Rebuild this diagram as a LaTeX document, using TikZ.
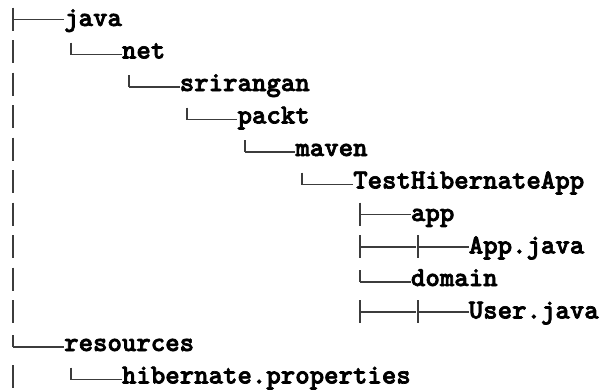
\documentclass[tikz,border=0pt]{standalone}
\usepackage{fontspec}
\newfontfamily\kodfont{lmmonolt10-bold}[Extension=.otf, FakeBold=2.5]
\begin{document}
\begin{tikzpicture}[x=1pt, y=-1pt]
  % Kolory
  \definecolor{lineTree}{RGB}{60, 60, 60}
  \definecolor{textTree}{RGB}{0, 0, 0}
  \tikzset{
    plik/.style={inner sep=0pt, anchor=base west, text=textTree,
      font=\kodfont\fontsize{27.5}{30}\selectfont},
    galaz/.style={lineTree, line width=1.5pt},
    pion/.style={lineTree, line width=2pt}
  }
  \useasboundingbox (0,0) rectangle (600,391);
  \fill[white] (0,0) rectangle (600,391);

  % Wymiary siatki
  \def\ox{6.2} \def\cw{14.45} \def\by{26} \def\dy{32.5}

  % Nazwy katalogow i plikow
  \foreach \i/\k/\nazwa in {
      1/0/java, 2/4/net, 3/8/srirangan, 4/12/packt, 5/16/maven,
      6/20/TestHibernateApp, 7/24/app, 8/28/App.java, 9/24/domain,
      10/28/User.java, 11/0/resources, 12/4/hibernate.properties
  } {
    \node[plik] (n\i) at ({\ox+(\k+4)*\cw}, {\by+(\i-1)*\dy}) {\nazwa};
  }

  % Pionowe kreski
  \foreach \i in {2,...,10,12} {
    \coordinate (p\i) at ({\ox+0.5*\cw}, {\by+(\i-1)*\dy-6.5});
    \draw[pion] (p\i) ++(0,-12) -- ++(0,23);
  }

  % Rozgalezienia
  \foreach \i/\k in {1/0, 7/24, 8/24, 8/28, 10/24, 10/28} {
    \coordinate (t\i-\k) at ({\ox+(\k+0.5)*\cw}, {\by+(\i-1)*\dy-6.5});
    \draw[pion] (t\i-\k) ++(0,-12) -- ++(0,23);
  }
  \draw[galaz] (t1-0) -- (t1-0 -| n1.west);
  \draw[galaz] (t7-24) -- (t7-24 -| n7.west);
  \draw[galaz] (t8-24) -- ([xshift=-2pt]t8-28);
  \draw[galaz] (t8-28) -- (t8-28 -| n8.west);
  \draw[galaz] (t10-24) -- ([xshift=-2pt]t10-28);
  \draw[galaz] (t10-28) -- (t10-28 -| n10.west);

  % Ostatnie galezie
  \foreach \i/\k in {2/4, 3/8, 4/12, 5/16, 6/20, 9/24, 11/0, 12/4} {
    \coordinate (l\i) at ({\ox+(\k+0.5)*\cw}, {\by+(\i-1)*\dy-4});
    \draw[pion] (l\i) ++(0,-12) -- (l\i);
    \draw[galaz] (l\i) -- (l\i -| n\i.west);
  }
\end{tikzpicture}
\end{document}
